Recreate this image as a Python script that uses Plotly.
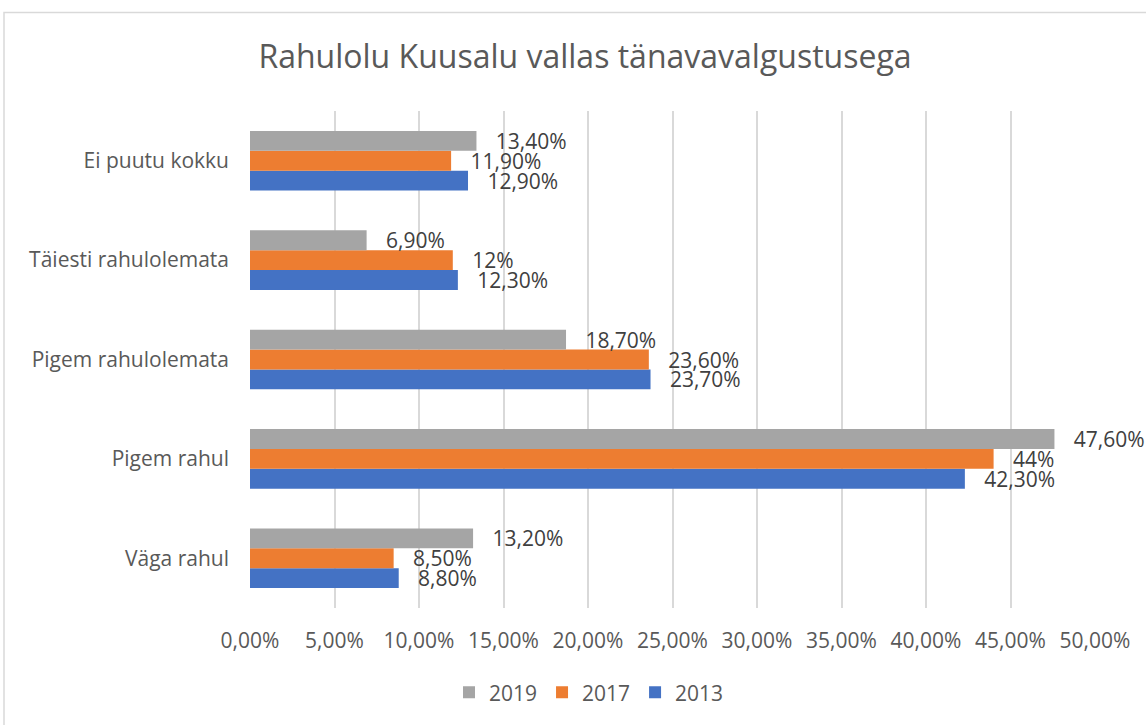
import plotly.graph_objects as go

categories = ["Väga rahul", "Pigem rahul", "Pigem rahulolemata", "Täiesti rahulolemata", "Ei puutu kokku"]
v2013 = [8.8, 42.3, 23.7, 12.3, 12.9]
v2017 = [8.5, 44.0, 23.6, 12.0, 11.9]
v2019 = [13.2, 47.6, 18.7, 6.9, 13.4]
tick_vals = [0, 5, 10, 15, 20, 25, 30, 35, 40, 45, 50]
tick_text = ["0,00%", "5,00%", "10,00%", "15,00%", "20,00%", "25,00%", "30,00%", "35,00%", "40,00%", "45,00%", "50,00%"]

PAD = "\u00a0\u00a0\u00a0"

def fmt(v):
    if abs(v - round(v)) < 1e-9:
        s = f"{int(round(v))}%"
    else:
        s = f"{v:.2f}".replace(".", ",") + "%"
    return PAD + s

FONT = "Open Sans"
FS = 21
fig = go.Figure()
for name, vals, col in [("2013", v2013, "#4472C4"), ("2017", v2017, "#ED7D31"), ("2019", v2019, "#A5A5A5")]:
    fig.add_trace(go.Bar(
        y=categories, x=vals, orientation="h", name=name,
        marker=dict(color=col, line=dict(width=0)),
        text=[fmt(v) for v in vals], textposition="outside", constraintext="none",
        textfont=dict(size=FS, color="#404040", family=FONT),
        cliponaxis=False,
    ))

W, H = 1146, 725
L, R, T, B = 250, 51, 111, 115
pw, ph = W - L - R, H - T - B

fig.update_layout(
    width=W, height=H,
    margin=dict(l=L, r=R, t=T, b=B),
    barmode="group", bargap=0.4, bargroupgap=0,
    plot_bgcolor="white", paper_bgcolor="white",
    font=dict(family=FONT, color="#595959", size=FS),
    title=dict(text="Rahulolu Kuusalu vallas tänavavalgustusega", x=585 / W, xanchor="center",
               y=1 - 57 / H, yanchor="middle", font=dict(size=32, color="#595959", family=FONT)),
    xaxis=dict(range=[0, 50], tickvals=tick_vals, ticktext=tick_text, showgrid=True,
               gridcolor="#d9d9d9", gridwidth=1.5, zeroline=False, showline=False,
               tickfont=dict(size=FS, color="#595959"), ticks="", ticklabelstandoff=18),
    yaxis=dict(showgrid=False, showline=False, ticks="", ticklabelstandoff=20,
               tickfont=dict(size=FS, color="#595959")),
    legend=dict(orientation="h", x=(589 - L) / pw, xanchor="center",
                y=-(695 - (T + ph)) / ph, yanchor="middle", traceorder="reversed",
                font=dict(size=FS, color="#595959"), itemwidth=30),
    showlegend=True,
)
fig.add_shape(type="rect", xref="paper", yref="paper",
              x0=(4 - L) / pw, x1=(W + 10 - L) / pw, y0=-(H + 10 - T - ph) / ph, y1=1 + (T - 12) / ph,
              line=dict(color="#d9d9d9", width=1.5), fillcolor="rgba(0,0,0,0)", layer="below")
fig.write_html("out.html", config={"displayModeBar": False},
               post_script="document.body.style.margin='0';")
